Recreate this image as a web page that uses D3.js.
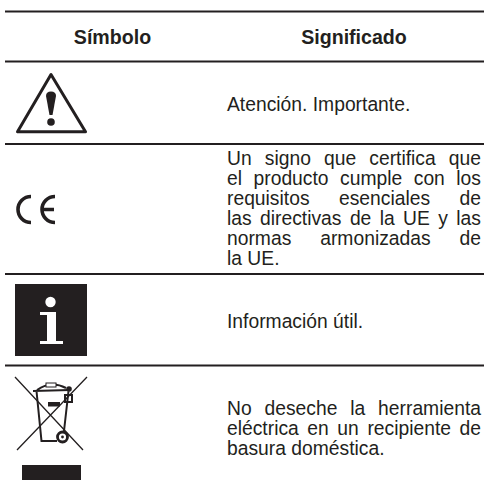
<!DOCTYPE html>
<html>
<head>
<meta charset="utf-8">
<script src="https://cdn.jsdelivr.net/npm/d3@7"></script>
<style>
body { margin: 0; background: #fff; }
svg { display: block; }
text { font-family: "Liberation Sans", sans-serif; fill: #231f20; }
</style>
</head>
<body>
<script>
var headers = ["Símbolo", "Significado"];
var symbols = ["warning", "ce", "info", "weee"];
var meaningWarning = ["Atención. Importante."];
var meaningCe = ["Un signo que certifica que", "el producto cumple con los", "requisitos esenciales de", "las directivas de la UE y las", "normas armonizadas de", "la UE."];
var meaningInfo = ["Información útil."];
var meaningWeee = ["No deseche la herramienta", "eléctrica en un recipiente de", "basura doméstica."];
var meanings = [meaningWarning, meaningCe, meaningInfo, meaningWeee];

var width = 484, height = 487;
var ink = "#231f20";
var fontSize = 19.3, lineHeight = 20;
var textLeft = 227, textRight = 481;
var ruleY = [11.5, 61.5, 144, 274, 365.5];
var firstBaseline = [110.7, 165, 328, 415];

var svg = d3.select("body").append("svg")
    .attr("width", width)
    .attr("height", height);

// rules
svg.selectAll(".rule")
  .data(ruleY)
  .enter().append("line")
  .attr("class", "rule")
  .attr("x1", 5)
  .attr("x2", width)
  .attr("y1", function(d) {return d;})
  .attr("y2", function(d) {return d;})
  .attr("stroke", ink)
  .attr("stroke-width", 2);

// header
svg.selectAll(".head")
  .data(headers)
  .enter().append("text")
  .attr("class", "head")
  .attr("x", function(d, i) {return i == 0 ? 112.5 : 354;})
  .attr("y", 44)
  .attr("text-anchor", "middle")
  .attr("font-weight", "bold")
  .attr("font-size", 19.6)
  .text(function(d) {return d;});

// meaning text, justified except for the last line of a paragraph
meanings.forEach(function(lines, r) {
	lines.forEach(function(line, i) {
		var t = svg.append("text")
		    .attr("x", textLeft)
		    .attr("y", firstBaseline[r] + i * lineHeight)
		    .attr("font-size", fontSize)
		    .text(line);
		var gaps = line.split(" ").length - 1;
		if (i < lines.length - 1 && gaps > 0) {
			var extra = (textRight - textLeft - t.node().getComputedTextLength()) / gaps;
			t.attr("word-spacing", extra);
		}
	});
});

// symbols
var draw = {
	warning: function(g) {
		g.append("path")
		    .attr("d", "M51 74.5 L17.5 131.7 L85.5 131.7 Z")
		    .attr("fill", "none")
		    .attr("stroke", ink)
		    .attr("stroke-width", 3)
		    .attr("stroke-linejoin", "round");
		g.append("path")
		    .attr("d", "M46 96 Q46 91.5 51 91.5 Q56 91.5 56 96 L52.5 115 L49.5 115 Z")
		    .attr("fill", ink);
		g.append("circle").attr("cx", 51).attr("cy", 122).attr("r", 3.8).attr("fill", ink);
	},
	ce: function(g) {
		var glyph = d3.path();
		glyph.moveTo(31, 196.5);
		glyph.arc(31, 209.5, 13, -Math.PI / 2, Math.PI / 2, true);
		glyph.moveTo(55, 196.5);
		glyph.arc(55, 209.5, 13, -Math.PI / 2, Math.PI / 2, true);
		glyph.moveTo(42, 209.5);
		glyph.lineTo(54, 209.5);
		g.append("path")
		    .attr("d", glyph.toString())
		    .attr("fill", "none")
		    .attr("stroke", ink)
		    .attr("stroke-width", 3.6);
	},
	info: function(g) {
		g.append("rect")
		    .attr("x", 15).attr("y", 284)
		    .attr("width", 72).attr("height", 72)
		    .attr("fill", ink);
		g.append("circle").attr("cx", 50.5).attr("cy", 302).attr("r", 5.2).attr("fill", "#fff");
		g.append("path")
		    .attr("d", "M40 312 L56 312 L56 341 L63 341 L63 344 L40 344 L40 341 L47 341 L47 315 L40 315 Z")
		    .attr("fill", "#fff");
	},
	weee: function(g) {
		g.append("path")
		    .attr("d", "M15 377 L83 450 M87 377 L17 450")
		    .attr("fill", "none")
		    .attr("stroke", ink)
		    .attr("stroke-width", 1.3);
		g.append("path")
		    .attr("d", "M36.5 391 L41.5 441 L57 441 M68.5 391 L64 431 " +
		        "M33 391 L70 390 M37 390 Q51 380 66 388 M65 395 L72 395 L72 402 L65 402 Z")
		    .attr("fill", "none")
		    .attr("stroke", ink)
		    .attr("stroke-width", 2);
		g.append("rect").attr("x", 46).attr("y", 383).attr("width", 10).attr("height", 4)
		    .attr("fill", "#fff").attr("stroke", ink);
		g.append("rect").attr("x", 48).attr("y", 402).attr("width", 12).attr("height", 4.5).attr("fill", ink);
		g.append("circle").attr("cx", 69).attr("cy", 389).attr("r", 2.8).attr("fill", ink);
		g.append("circle").attr("cx", 62.5).attr("cy", 437).attr("r", 5)
		    .attr("fill", "#fff").attr("stroke", ink).attr("stroke-width", 2.8);
		g.append("circle").attr("cx", 62.5).attr("cy", 437).attr("r", 1.4).attr("fill", ink);
		g.append("rect").attr("x", 22).attr("y", 465).attr("width", 59).attr("height", 15).attr("fill", ink);
	}
};

symbols.forEach(function(name) {
	draw[name](svg.append("g").attr("class", "symbol " + name));
});
</script>
</body>
</html>
